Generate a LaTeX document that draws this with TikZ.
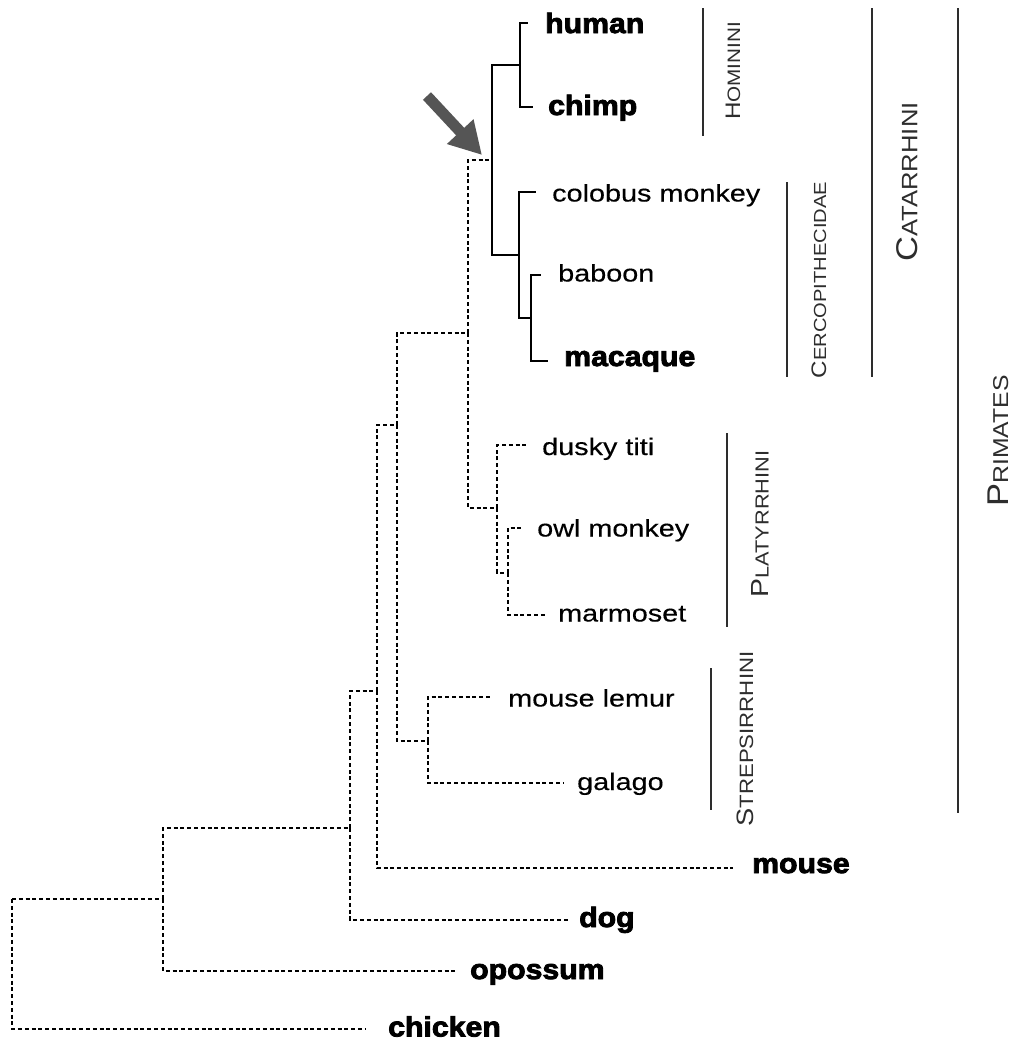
\documentclass[tikz,border=0pt]{standalone}
\usepackage{fontspec}
\setmainfont{Liberation Sans}
\newfontfamily\plainf[FakeStretch=1.2,FakeBold=0.3]{Liberation Sans}
\newfontfamily\boldf[FakeStretch=1.08,BoldFeatures={FakeBold=3}]{Liberation Sans}
\newfontfamily\labf[FakeStretch=1.15]{Liberation Sans}
\usetikzlibrary{arrows.meta}
\definecolor{barcol}{RGB}{45,45,45}
\definecolor{arrowcol}{RGB}{85,85,85}
\newcommand\cladetxt[4]{{\labf\fontsize{#3}{#3}\selectfont #1\fontsize{#4}{#4}\selectfont #2}}
\tikzset{
  leaf/.style={inner sep=0pt, anchor=base west, font=\plainf\fontsize{24}{28}\selectfont},
  bleaf/.style={inner sep=0pt, anchor=base west, font=\boldf\bfseries\fontsize{28}{30}\selectfont},
  dbr/.style={line width=2pt, dash pattern=on 4pt off 2.8pt},
  sbr/.style={line width=2pt},
  cbar/.style={line width=1.5pt, draw=barcol},
  clade/.style={rotate=90, text=barcol, inner sep=0pt},
}
\begin{document}
\begin{tikzpicture}[x=1pt,y=-1pt]
\useasboundingbox (0,0) rectangle (1014,1045);
% internal nodes
\coordinate (R) at (12,899);
\coordinate (A) at (163,899);
\coordinate (B) at (350,828);
\coordinate (C) at (377,691);
\coordinate (D) at (397,425);
\coordinate (E) at (468,333);
\coordinate (F) at (428,741);
\coordinate (G) at (492,160);
\coordinate (H) at (497,508);
\coordinate (I) at (520,65);
\coordinate (J) at (519,255);
\coordinate (K) at (531,318);
\coordinate (L) at (508,573);
% leaf ends
\coordinate (e-chicken) at (365,1029);
\coordinate (e-opossum) at (455,971);
\coordinate (e-dog) at (568,920);
\coordinate (e-mouse) at (733,868);
\coordinate (e-lemur) at (490,697);
\coordinate (e-galago) at (563,783);
\coordinate (e-titi) at (527,445);
\coordinate (e-owl) at (521,528);
\coordinate (e-marmoset) at (546,615);
\coordinate (e-human) at (528,23);
\coordinate (e-chimp) at (533,107);
\coordinate (e-colobus) at (536,192);
\coordinate (e-baboon) at (541,275);
\coordinate (e-macaque) at (548,361);
% labels
\node[bleaf] (human) at (545,33) {human};
\node[bleaf] (chimp) at (548,115) {chimp};
\node[leaf] (colobus) at (552,201.5) {colobus monkey};
\node[leaf] (baboon) at (558,281.5) {baboon};
\node[bleaf] (macaque) at (564,366) {macaque};
\node[leaf] (titi) at (542,455) {dusky titi};
\node[leaf] (owl) at (537,536.5) {owl monkey};
\node[leaf] (marmoset) at (558,621.5) {marmoset};
\node[leaf] (lemur) at (508,706.5) {mouse lemur};
\node[leaf] (galago) at (577,790) {galago};
\node[bleaf] (mouse) at (752,873) {mouse};
\node[bleaf] (dog) at (579,927) {dog};
\node[bleaf] (opossum) at (470,979) {opossum};
\node[bleaf] (chicken) at (388,1036.5) {chicken};
% dotted branches
\draw[dbr] (R) |- (A);
\draw[dbr] (R) |- (e-chicken);
\draw[dbr] (A) |- (B);
\draw[dbr] (A) |- (e-opossum);
\draw[dbr] (B) |- (C);
\draw[dbr] (B) |- (e-dog);
\draw[dbr] (C) |- (D);
\draw[dbr] (C) |- (e-mouse);
\draw[dbr] (D) |- (E);
\draw[dbr] (D) |- (F);
\draw[dbr] (F) |- (e-lemur);
\draw[dbr] (F) |- (e-galago);
\draw[dbr] (E) |- (G);
\draw[dbr] (E) |- (H);
\draw[dbr] (H) |- (e-titi);
\draw[dbr] (H) |- (L);
\draw[dbr] (L) |- (e-owl);
\draw[dbr] (L) |- (e-marmoset);
% solid branches
\draw[sbr] (G) |- (I);
\draw[sbr] (G) |- (J);
\draw[sbr] (I) |- (e-human);
\draw[sbr] (I) |- (e-chimp);
\draw[sbr] (J) |- (e-colobus);
\draw[sbr] (J) |- (K);
\draw[sbr] (K) |- (e-baboon);
\draw[sbr] (K) |- (e-macaque);
% clade bars
\draw[cbar] (703,8) -- (703,136);
\draw[cbar] (872,8) -- (872,377);
\draw[cbar] (958,8) -- (958,813);
\draw[cbar] (787,182) -- (787,377);
\draw[cbar] (727,433) -- (727,627);
\draw[cbar] (711,668) -- (711,810);
\node[clade] (hominini) at (733,71) {\cladetxt{H}{OMININI}{21}{18}};
\node[clade] (catarrhini) at (907,182) {\cladetxt{C}{ATARRHINI}{30}{22.3}};
\node[clade] (primates) at (998,441) {\cladetxt{P}{RIMATES}{30}{21.5}};
\node[clade] (cerco) at (819,280) {\cladetxt{C}{ERCOPITHECIDAE}{21}{17.5}};
\node[clade] (platy) at (760,524) {\cladetxt{P}{LATYRRHINI}{24.7}{18.9}};
\node[clade] (streps) at (745,739) {\cladetxt{S}{TREPSIRRHINI}{23.7}{19.3}};
% arrow
\coordinate (arA) at (427,96);
\coordinate (arB) at (482,155);
\draw[line width=11pt, draw=arrowcol, -{Triangle[length=32pt,width=34pt]}] (arA) -- (arB);
\end{tikzpicture}
\end{document}
